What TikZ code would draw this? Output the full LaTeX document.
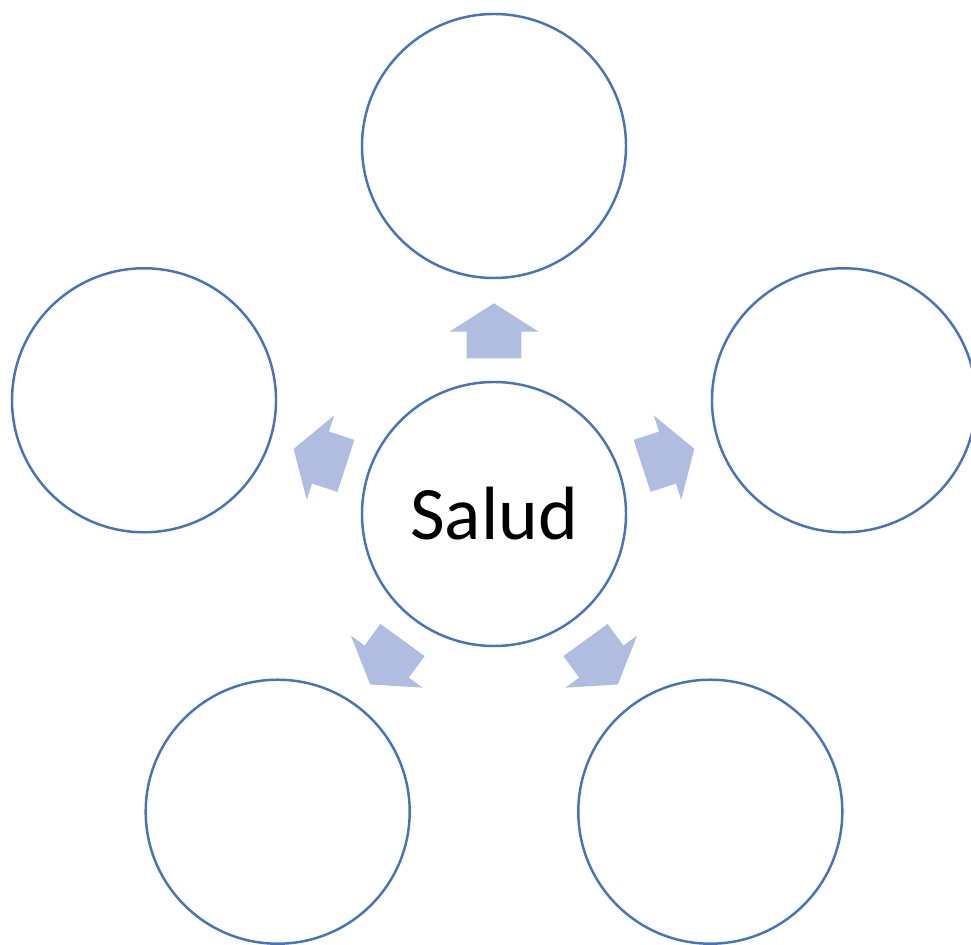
\documentclass[tikz,border=0pt]{standalone}
\usepackage{fontspec}
\setmainfont{Carlito}
\usepackage{tikz}
\usetikzlibrary{shapes.arrows}

\definecolor{ringblue}{HTML}{4472C4}
\definecolor{arrowblue}{HTML}{B0BDE0}

\tikzset{
    ring/.style={circle, draw=ringblue, line width=1.4pt, minimum size=264*0.02cm, inner sep=0pt},
    blockarrow/.style={single arrow, fill=arrowblue, draw=none, inner xsep=0pt, inner ysep=0.54cm,
        minimum height=1.1cm,
        single arrow head extend=0.34cm, single arrow tip angle=115}
}

\begin{document}
\begin{tikzpicture}[x=0.02cm, y=0.02cm]
    \useasboundingbox (0,0) rectangle (971,944);
    \coordinate (hub) at (494,430);
    \node[ring, font=\fontsize{43}{50}\selectfont] (salud) at (hub) {Salud};
    \node[ring] (top) at ([shift={(90:368)}]hub) {};
    \node[ring] (right) at ([shift={(18:368)}]hub) {};
    \node[ring] (left) at ([shift={(162:368)}]hub) {};
    \node[ring] (lowright) at ([shift={(-54:368)}]hub) {};
    \node[ring] (lowleft) at ([shift={(-126:368)}]hub) {};
    \node[blockarrow, rotate=90] (toTop) at ([shift={(90:174.5)}]hub) {};
    \node[blockarrow, rotate=18] (toRight) at ([shift={(18:174.5)}]hub) {};
    \node[blockarrow, rotate=162] (toLeft) at ([shift={(162:174.5)}]hub) {};
    \node[blockarrow, rotate=-54] (toLowright) at ([shift={(-54:174.5)}]hub) {};
    \node[blockarrow, rotate=-126] (toLowleft) at ([shift={(-126:174.5)}]hub) {};
\end{tikzpicture}
\end{document}
